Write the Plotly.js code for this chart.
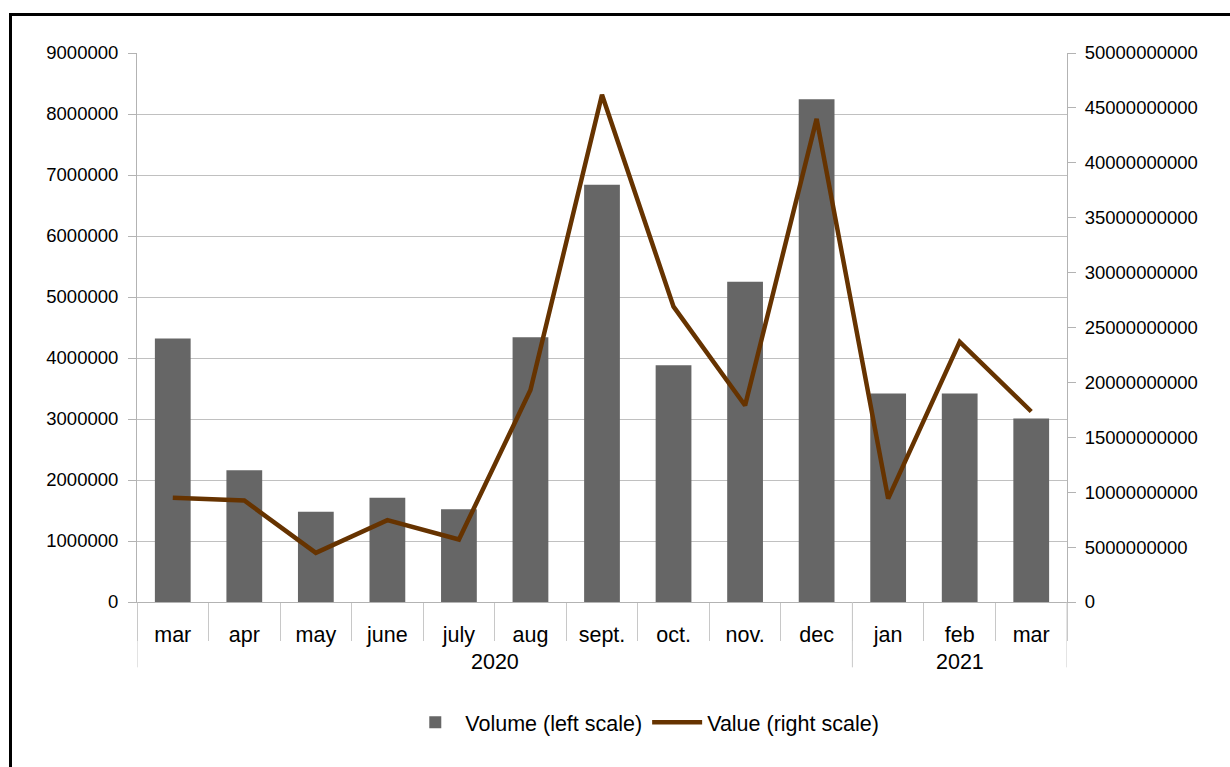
<!DOCTYPE html>
<html>
<head>
<meta charset="utf-8">
<script src="https://cdn.plot.ly/plotly-3.0.1.min.js"></script>
<style>
html,body{margin:0;padding:0;background:#fff;}
#chart{width:1230px;height:767px;}
#frame{position:absolute;left:9px;top:13px;width:1300px;height:900px;border:3px solid #000;pointer-events:none;box-sizing:border-box;}
</style>
</head>
<body>
<div id="chart"></div>
<div id="frame"></div>
<script>
const years = ["2020","2020","2020","2020","2020","2020","2020","2020","2020","2020","2021","2021","2021"];
// the last "mar" carries a zero-width space so it stays a distinct category
const months = ["mar","apr","may","june","july","aug","sept.","oct.","nov.","dec","jan","feb","mar\u200b"];
const volume = [4320000, 2160000, 1480000, 1710000, 1520000, 4340000, 6840000, 3880000, 5250000, 8240000, 3420000, 3420000, 3010000];
const value = [9490000000, 9240000000, 4480000000, 7450000000, 5690000000, 19300000000, 46200000000, 26900000000, 17900000000, 44000000000, 9410000000, 23700000000, 17350000000];

const fam = "Liberation Sans, Arial, sans-serif";
const yFont = {family: fam, size: 18.5, color: "#000"};
const xFont = {family: fam, size: 21.5, color: "#000"};
const sepColor = "#c8c8c8";

// year groups derived from the years array
const groups = [];
years.forEach((y, i) => {
  const g = groups[groups.length - 1];
  if (g && g.year === y) g.end = i; else groups.push({year: y, start: i, end: i});
});
const annotations = groups.map(g => ({
  text: g.year, xref: "x", yref: "paper",
  x: (g.start + g.end) / 2, y: 0, yanchor: "middle", yshift: -60,
  showarrow: false, font: xFont
}));
const boundaries = [groups[0].start - 0.5].concat(groups.map(g => g.end + 0.5));
const shapes = boundaries.map(b => ({
  type: "line", xref: "x", yref: "paper", x0: b, x1: b, y0: 0, y1: -0.119,
  line: {color: sepColor, width: 1}
}));

const traces = [
  {
    type: "bar",
    name: "Volume (left scale)",
    x: months,
    y: volume,
    marker: {color: "#666666"},
    yaxis: "y"
  },
  {
    type: "scatter",
    mode: "lines",
    name: "Value (right scale)",
    x: months,
    y: value,
    line: {color: "#663300", width: 4.5},
    yaxis: "y2"
  }
];

const layout = {
  width: 1230,
  height: 767,
  margin: {l: 137, r: 163, t: 53, b: 165},
  paper_bgcolor: "#fff",
  plot_bgcolor: "#fff",
  font: xFont,
  bargap: 0.5,
  showlegend: true,
  legend: {orientation: "h", x: 0.546, xanchor: "center", y: -0.219, yanchor: "middle", font: xFont, itemwidth: 50},
  annotations: annotations,
  shapes: shapes,
  xaxis: {
    type: "category",
    range: [-0.5, months.length - 0.5],
    showline: true,
    linecolor: "#b3b3b3",
    linewidth: 1,
    ticks: "outside",
    tickson: "boundaries",
    ticklen: 38,
    tickcolor: sepColor,
    ticklabelstandoff: 13,
    showgrid: false,
    tickfont: xFont
  },
  yaxis: {
    range: [0, 9000000],
    dtick: 1000000,
    tickformat: "d",
    showgrid: true,
    gridcolor: "#c0c0c0",
    gridwidth: 1,
    showline: true,
    linecolor: "#b3b3b3",
    ticks: "outside",
    ticklen: 8,
    tickcolor: "#b3b3b3",
    ticklabelstandoff: 6,
    zeroline: false,
    tickfont: yFont
  },
  yaxis2: {
    overlaying: "y",
    side: "right",
    range: [0, 50000000000],
    dtick: 5000000000,
    tickformat: "d",
    showgrid: false,
    showline: true,
    linecolor: "#b3b3b3",
    ticks: "outside",
    ticklen: 8,
    tickcolor: "#b3b3b3",
    ticklabelstandoff: 5,
    zeroline: false,
    tickfont: yFont
  }
};

Plotly.newPlot("chart", traces, layout, {displayModeBar: false, staticPlot: true});
</script>
</body>
</html>
